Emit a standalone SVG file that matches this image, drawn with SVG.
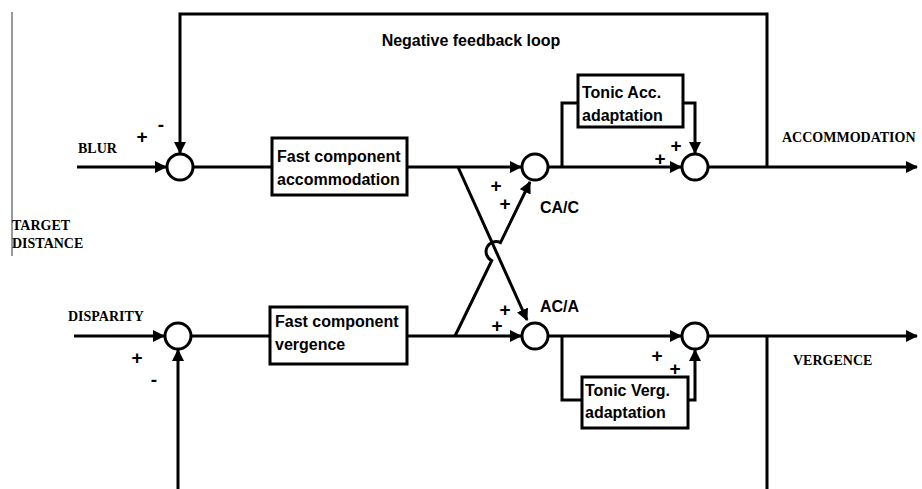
<svg xmlns="http://www.w3.org/2000/svg" width="922" height="489" viewBox="0 0 922 489">
<defs>
<marker id="ah" viewBox="0 0 12 12" refX="11" refY="6" markerWidth="12" markerHeight="12" markerUnits="userSpaceOnUse" orient="auto">
<path d="M0,0 L12,6 L0,12 z" fill="#000"/>
</marker>
<style>
.ln{fill:none;stroke:#000;stroke-width:3;}
.ar{marker-end:url(#ah);}
.sum{fill:#fff;stroke:#000;stroke-width:3;}
.box{fill:#fff;stroke:#000;stroke-width:3;}
.bt{font-family:"Liberation Sans",Arial,sans-serif;font-weight:bold;font-size:16px;fill:#000;}
.st{font-family:"Liberation Serif","Times New Roman",serif;font-weight:bold;font-size:14px;fill:#000;}
.sg{font-family:"Liberation Sans",Arial,sans-serif;font-weight:bold;font-size:19px;fill:#000;text-anchor:middle;dominant-baseline:central;}
</style>
</defs>
<rect width="922" height="489" fill="#fff"/>
<line x1="12" y1="12" x2="12" y2="256" stroke="#777" stroke-width="1.5"/>

<g id="connectors">
<path class="ln ar" d="M767,167 V14 H180 V153"/>
<path class="ln" d="M767,336 V489"/>
<path class="ln ar" d="M178,489 V350"/>
<path class="ln ar" d="M77,167 H166"/>
<path class="ln" d="M193,167 H272"/>
<path class="ln ar" d="M407,167 H521"/>
<path class="ln ar" d="M548,167 H681"/>
<path class="ln ar" d="M708,167 H917"/>
<path class="ln" d="M562,167 V103 H578"/>
<path class="ln ar" d="M683,103 H695 V153"/>
<path class="ln ar" d="M74,336 H164"/>
<path class="ln" d="M191,336 H270"/>
<path class="ln ar" d="M407,336 H521"/>
<path class="ln ar" d="M548,336 H681"/>
<path class="ln ar" d="M708,336 H917"/>
<path class="ln" d="M562,336 V400 H582"/>
<path class="ln ar" d="M688,400 H695 V350"/>
<path class="ln ar" d="M458,167 L527,320"/>
<path class="ln ar" d="M455,336 L491.7,260.6 A10,10 0 0 1 500.5,242.6 L530,182"/>
</g>

<g id="sum-blur"><circle class="sum" cx="180" cy="167" r="13"/></g>
<g id="sum-disparity"><circle class="sum" cx="178" cy="336" r="13"/></g>
<g id="sum-cac"><circle class="sum" cx="535" cy="167" r="13"/></g>
<g id="sum-aca"><circle class="sum" cx="535" cy="336" r="13"/></g>
<g id="sum-acc"><circle class="sum" cx="695" cy="167" r="13"/></g>
<g id="sum-verg"><circle class="sum" cx="695" cy="336" r="13"/></g>

<g id="fast-acc">
<rect class="box" x="272" y="138" width="135" height="57"/>
<text class="bt" x="277" y="162">Fast component</text>
<text class="bt" x="277" y="185">accommodation</text>
</g>
<g id="fast-verg">
<rect class="box" x="270" y="307" width="137" height="57"/>
<text class="bt" x="275" y="327">Fast component</text>
<text class="bt" x="275" y="350">vergence</text>
</g>
<g id="tonic-acc">
<rect class="box" x="578" y="75" width="105" height="52"/>
<text class="bt" x="582" y="98">Tonic Acc.</text>
<text class="bt" x="582" y="121">adaptation</text>
</g>
<g id="tonic-verg">
<rect class="box" x="582" y="377" width="106" height="51"/>
<text class="bt" x="585" y="396">Tonic Verg.</text>
<text class="bt" x="585" y="418">adaptation</text>
</g>

<g id="labels">
<text class="bt" x="471" y="46" text-anchor="middle">Negative feedback loop</text>
<text class="st" x="78" y="153">BLUR</text>
<text class="st" x="12" y="230">TARGET</text>
<text class="st" x="12" y="248">DISTANCE</text>
<text class="st" x="68" y="321">DISPARITY</text>
<text class="st" x="782" y="142">ACCOMMODATION</text>
<text class="st" x="793" y="365">VERGENCE</text>
<text class="bt" x="540" y="213">CA/C</text>
<text class="bt" x="540" y="312">AC/A</text>
<text class="sg" x="142" y="136">+</text>
<text class="sg" x="161" y="124">-</text>
<text class="sg" x="137" y="357">+</text>
<text class="sg" x="154" y="379">-</text>
<text class="sg" x="496" y="185">+</text>
<text class="sg" x="505" y="203">+</text>
<text class="sg" x="505" y="309">+</text>
<text class="sg" x="497" y="325">+</text>
<text class="sg" x="676" y="145">+</text>
<text class="sg" x="660" y="158">+</text>
<text class="sg" x="657" y="355">+</text>
<text class="sg" x="675" y="368">+</text>
</g>
</svg>
